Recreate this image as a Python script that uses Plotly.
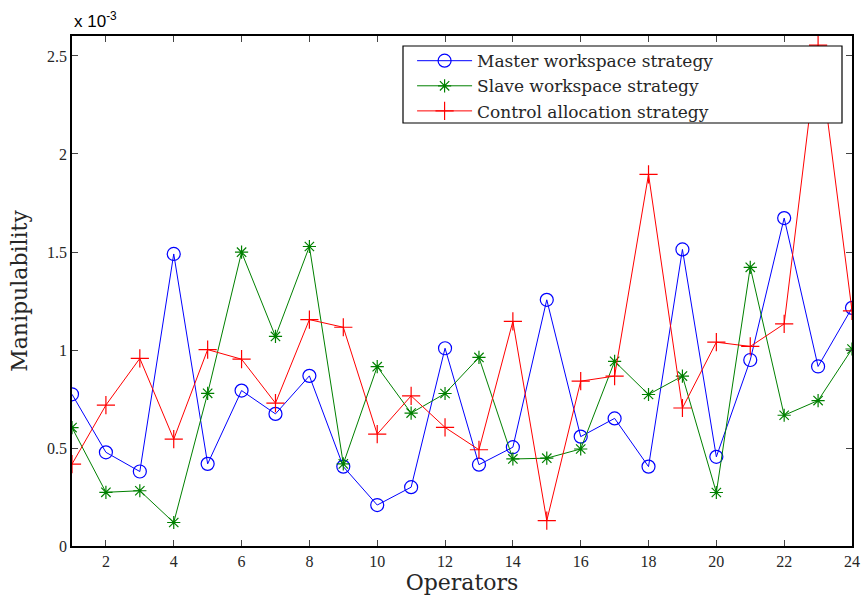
import plotly.graph_objects as go

# Values in units of 1e-3
operators = list(range(1, 25))
master = [0.774, 0.478, 0.380, 1.490, 0.419, 0.793, 0.674, 0.868, 0.405,
          0.209, 0.300, 1.009, 0.415, 0.504, 1.256, 0.558, 0.651, 0.405,
          1.513, 0.455, 0.949, 1.673, 0.916, 1.215]
slave = [0.604, 0.274, 0.282, 0.120, 0.779, 1.499, 1.069, 1.528, 0.419,
         0.915, 0.678, 0.778, 0.962, 0.444, 0.448, 0.495, 0.942, 0.773,
         0.867, 0.273, 1.422, 0.667, 0.742, 1.005]
control = [0.418, 0.719, 0.957, 0.545, 1.002, 0.953, 0.729, 1.155, 1.116,
           0.571, 0.766, 0.605, 0.491, 1.146, 0.129, 0.841, 0.867, 1.896,
           0.704, 1.040, 1.018, 1.133, 2.555, 1.200]
names = ["Master workspace strategy", "Slave workspace strategy", "Control allocation strategy"]
xticks = list(range(2, 25, 2))
yticks = [0, 0.5, 1, 1.5, 2, 2.5]
ytext = ["0", "0.5", "1", "1.5", "2", "2.5"]

serif = "DejaVu Serif, Liberation Serif, serif"
tickserif = "Liberation Serif, DejaVu Serif, serif"

fig = go.Figure()
fig.add_trace(go.Scatter(x=operators, y=master, name=names[0], mode="lines+markers",
                         line=dict(color="#0000FF", width=1),
                         marker=dict(symbol="circle-open", size=13, color="#0000FF", line=dict(width=1.2))))
fig.add_trace(go.Scatter(x=operators, y=slave, name=names[1], mode="lines+markers",
                         line=dict(color="#008000", width=1),
                         marker=dict(symbol="asterisk-open", size=11, color="#008000", line=dict(width=1.2, color="#008000"))))
fig.add_trace(go.Scatter(x=operators, y=control, name=names[2], mode="lines+markers",
                         line=dict(color="#FF0000", width=1),
                         marker=dict(symbol="cross-thin-open", size=13, color="#FF0000", line=dict(width=1.2, color="#FF0000"))))

fig.update_layout(
    width=861, height=603,
    margin=dict(l=72, r=9, t=36, b=57),
    paper_bgcolor="white", plot_bgcolor="white",
    font=dict(family=tickserif, color="#262626"),
    showlegend=True,
    legend=dict(x=0.436, y=0.986, xanchor="left", yanchor="top",
                borderwidth=0, bgcolor="rgba(0,0,0,0)",
                font=dict(family=serif, size=17, color="#262626"),
                tracegroupgap=0, itemwidth=55),
    xaxis=dict(range=[1, 24], tickvals=xticks, ticks="inside", ticklen=6,
               showline=True, linecolor="black", linewidth=1.5, mirror="ticks",
               showgrid=False, zeroline=False, automargin=False,
               tickfont=dict(family=tickserif, size=16, color="#262626"),
               title=dict(text="Operators", font=dict(family=serif, size=22, color="#262626"), standoff=4)),
    yaxis=dict(range=[0, 2.602], tickvals=yticks, ticktext=ytext, ticks="inside", ticklen=6,
               showline=True, linecolor="black", linewidth=1.5, mirror="ticks",
               showgrid=False, zeroline=False, automargin=False,
               tickfont=dict(family=tickserif, size=16, color="#262626"),
               title=dict(text="Manipulability", font=dict(family=serif, size=22, color="#262626"), standoff=13)),
)
# legend frame (white box with black border, as in the original)
fig.add_shape(type="rect", xref="paper", yref="paper",
              x0=(403 - 72) / 780, x1=(842 - 72) / 780,
              y0=(546 - 123) / 510, y1=(546 - 46) / 510,
              line=dict(color="black", width=1.2), fillcolor="white", layer="above")
fig.add_annotation(text="x 10<sup>-3</sup>", xref="paper", yref="paper", x=0, y=1.0,
                   xanchor="left", yanchor="bottom", showarrow=False, yshift=3,
                   font=dict(family="Liberation Sans, Arial, sans-serif", size=17, color="black"))

fig.write_html("out.html", config={"displayModeBar": False},
               post_script="document.body.style.margin='0';document.body.style.overflow='hidden';")
